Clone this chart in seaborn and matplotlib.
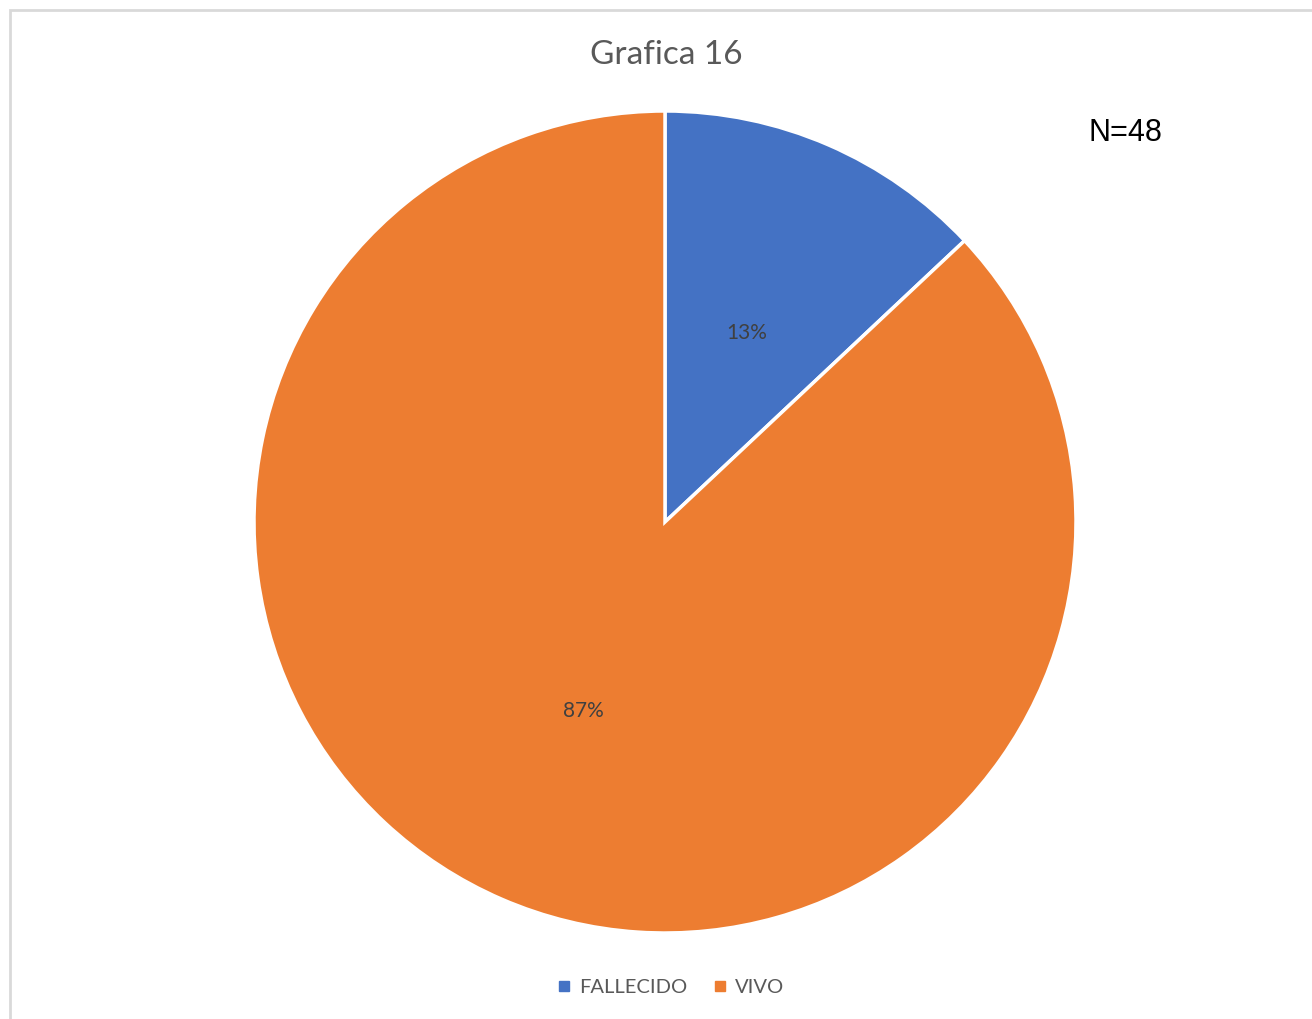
import matplotlib
matplotlib.use("Agg")
import matplotlib.pyplot as plt
from matplotlib.lines import Line2D
from matplotlib.patches import Rectangle
import seaborn as sns

# data (percent shares as shown on the chart)
categories = ["FALLECIDO", "VIVO"]
shares = [13, 87]
total_n = 48
title = "Grafica 16"

sns.set_theme(style="white")
plt.rcParams["font.family"] = ["Lato", "DejaVu Sans"]

colors = ["#4472C4", "#ED7D31"]

W, H = 1312, 1019
fig = plt.figure(figsize=(W / 100, H / 100), dpi=100)

# light grey chart border (left/top visible, right/bottom cut off)
fig.patches.append(Rectangle((10 / W, -0.05), 1.1, (H - 10) / H + 0.05,
                             transform=fig.transFigure, fill=False,
                             edgecolor="#D9D9D9", linewidth=2))

# pie axes: centre (665, 522), radius 411 px
r = 411
ax = fig.add_axes([(665 - r) / W, (H - 522 - r) / H, 2 * r / W, 2 * r / H])

wedges, _, autotexts = ax.pie(
    shares, colors=colors, startangle=90, counterclock=False,
    autopct="%.0f%%", pctdistance=0.5,
    wedgeprops=dict(edgecolor="white", linewidth=2.5),
    textprops=dict(color="#404040", fontsize=15),
)
ax.set_xlim(-1, 1)
ax.set_ylim(-1, 1)
ax.set_aspect("equal")
ax.axis("off")

fig.text(666 / W, 1 - 55 / H, title, ha="center", va="center",
         fontsize=24, color="#595959")
fig.text(1125 / W, 1 - 133 / H, f"N={total_n}", ha="center", va="center",
         fontsize=22, color="black", family=["Liberation Sans", "DejaVu Sans"])

handles = [Line2D([], [], marker="s", linestyle="", markersize=7,
                  markerfacecolor=c, markeredgecolor=c) for c in colors]
fig.legend(handles, categories, loc="center", bbox_to_anchor=(671 / W, 1 - 987 / H),
           ncol=2, frameon=False, fontsize=14.5, labelcolor="#595959",
           handletextpad=0.45, columnspacing=1.3, handlelength=0.6)

fig.savefig("out.png", dpi=100, facecolor="white")
